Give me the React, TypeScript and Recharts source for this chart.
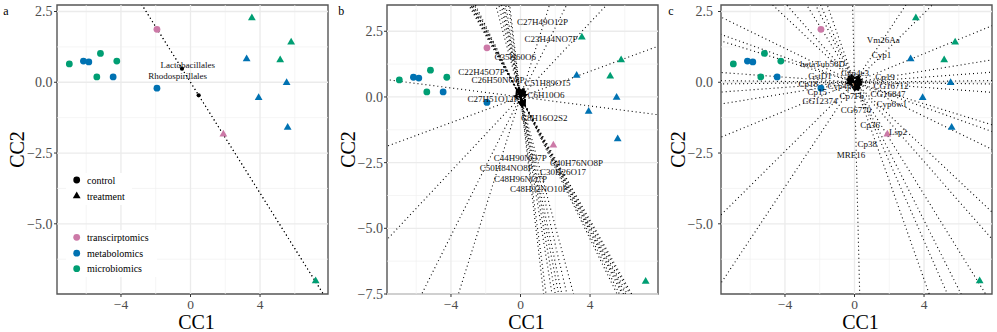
import React from 'react';
import { ScatterChart, Scatter, XAxis, YAxis, ReferenceLine, ReferenceArea } from 'recharts';

const FONT = '"Liberation Serif", "Times New Roman", Times, serif';
const PINK = '#CC79A7';
const BLUE = '#0072B2';
const GREEN = '#009E73';

// ---- samples (same in the three panels) ----
const controlTranscriptomics = [{ x: -1.93, y: 1.87 }];
const controlMetabolomics = [
  { x: -6.16, y: 0.75 }, { x: -5.85, y: 0.72 }, { x: -4.45, y: 0.19 }, { x: -1.93, y: -0.21 },
];
const controlMicrobiomics = [
  { x: -6.97, y: 0.65 }, { x: -5.18, y: 1.02 }, { x: -5.39, y: 0.19 }, { x: -4.24, y: 0.75 },
];
const treatmentTranscriptomics = [{ x: 1.89, y: -1.84 }];
const treatmentMetabolomics = [
  { x: 3.23, y: 0.82 }, { x: 5.53, y: -0.02 }, { x: 3.92, y: -0.55 }, { x: 5.59, y: -1.6 },
];
const treatmentMicrobiomics = [
  { x: 3.53, y: 2.27 }, { x: 5.79, y: 1.41 }, { x: 5.16, y: 0.79 }, { x: 7.2, y: -7.02 },
];

// ---- axes ----
const xDomain = [-7.68, 7.91];
const yDomainAC = [-7.48, 2.73];
const yDomainB = [-7.5, 3.5];
const xTicks = [-4, 0, 4];
const xMinor = [-6, -2, 2, 6];
const yTicksAC = [-5, -2.5, 0, 2.5];
const yTicksB = [-7.5, -5, -2.5, 0, 2.5];
const yMinor = [-6.25, -3.75, -1.25, 1.25];

// ---- panel a: bacterial orders ----
const bacteriaVectors = [
  { x: -0.49, y: 0.48 },
  { x: 0.47, y: -0.46 },
];
const bacteriaLabels = [
  { x: -0.16, y: 0.63, name: 'Lactobacillales' },
  { x: -0.74, y: 0.24, name: 'Rhodospirillales' },
];

// ---- panel b: metabolites ----
const metaboliteVectors = [
  { x: -0.35, y: 0.03 }, { x: 0.34, y: 0.083 }, { x: 0.29, y: 0.205 }, { x: 0.2, y: 0.264 },
  { x: 0.15, y: 0.315 },
  { x: 0.22, y: -0.297 }, { x: -0.22, y: 0.29 }, { x: 0.22, y: -0.282 }, { x: 0.24, y: -0.303 },
  { x: -0.2, y: 0.248 }, { x: 0.23, y: -0.281 }, { x: -0.22, y: 0.262 }, { x: 0.25, y: -0.293 },
  { x: 0.06, y: -0.338 }, { x: 0.065, y: -0.332 }, { x: 0.08, y: -0.331 }, { x: -0.09, y: 0.338 },
  { x: 0.1, y: -0.342 }, { x: 0.11, y: -0.347 }, { x: -0.12, y: 0.337 }, { x: 0.14, y: -0.344 },
];
const metaboliteLabels = [
  { x: 1.27, y: 2.84, name: 'C27H49O12P' },
  { x: 1.75, y: 2.21, name: 'C23H44NO7P' },
  { x: -0.3, y: 1.52, name: 'C35H60O6' },
  { x: -2.25, y: 0.97, name: 'C22H45O7P' },
  { x: -1.3, y: 0.65, name: 'C26H50NO8P' },
  { x: 1.56, y: 0.52, name: 'C51H89O15' },
  { x: 1.47, y: 0.08, name: 'C6H10O6' },
  { x: -1.58, y: -0.08, name: 'C27H51O12P' },
  { x: 1.37, y: -0.81, name: 'C8H16O2S2' },
  { x: -0.02, y: -2.32, name: 'C44H90NO7P' },
  { x: 3.22, y: -2.49, name: 'C40H76NO8P' },
  { x: -0.82, y: -2.68, name: 'C50H84NO8P' },
  { x: 2.45, y: -2.84, name: 'C30H26O17' },
  { x: 0.0, y: -3.13, name: 'C48H96NO7P' },
  { x: 1.05, y: -3.51, name: 'C48H92NO10P' },
];

// ---- panel c: genes ----
const geneVectors = [
  { x: -0.4, y: 0.12 }, { x: 0.4, y: -0.088 }, { x: -0.4, y: 0.076 }, { x: 0.4, y: -0.018 },
  { x: -0.4, y: 0.003 }, { x: 0.4, y: 0.003 }, { x: 0.4, y: 0.018 }, { x: -0.4, y: -0.04 },
  { x: 0.4, y: 0.101 }, { x: 0.3, y: 0.183 }, { x: 0.25, y: 0.231 }, { x: 0.012, y: -0.3 },
  { x: 0.15, y: -0.261 }, { x: -0.18, y: 0.252 }, { x: 0.2, y: -0.244 }, { x: 0.24, y: -0.238 },
  { x: -0.35, y: 0.203 }, { x: 0.3, y: -0.21 },
];
const geneLabels = [
  { x: 1.66, y: 1.5, name: 'Vm26Aa' },
  { x: 1.56, y: 0.96, name: 'Cyp1' },
  { x: -1.83, y: 0.65, name: 'betaTub56D' },
  { x: -1.99, y: 0.24, name: 'GstD1' },
  { x: 0.03, y: 0.35, name: 'Cyp4e3' },
  { x: -2.66, y: -0.06, name: 'Cp18' },
  { x: 1.75, y: 0.2, name: 'Cp19' },
  { x: 2.1, y: -0.12, name: 'CG16712' },
  { x: -2.14, y: -0.35, name: 'Cp15' },
  { x: -0.74, y: -0.12, name: 'Cyp4p1' },
  { x: -0.16, y: -0.47, name: 'Cp7Fb' },
  { x: 1.93, y: -0.41, name: 'CG16847' },
  { x: 2.14, y: -0.77, name: 'Cyp6w1' },
  { x: -1.99, y: -0.64, name: 'CG12374' },
  { x: 0.09, y: -0.98, name: 'CG6770' },
  { x: 0.89, y: -1.49, name: 'Cp36' },
  { x: 2.5, y: -1.75, name: 'Lsp2' },
  { x: 0.74, y: -2.19, name: 'Cp38' },
  { x: -0.2, y: -2.58, name: 'MRE16' },
];

const fmtX = (v: number) => String(v).replace('-', '\u2212');
const fmtY = (v: number) => v.toFixed(1).replace('-', '\u2212');

const extend = (v: { x: number; y: number }) => {
  const k = 40 / Math.max(Math.abs(v.x), Math.abs(v.y));
  return [{ x: -v.x * k, y: -v.y * k }, { x: v.x * k, y: v.y * k }];
};

const circleShape = (color: string, r = 3.4) => (p: any) => (
  <circle cx={p.cx} cy={p.cy} r={r} fill={color} />
);
const triangleShape = (color: string) => (p: any) => {
  const s = 7.8;
  const h = s * 0.866;
  const { cx, cy } = p;
  return (
    <polygon
      points={`${cx},${cy - (h * 2) / 3} ${cx - s / 2},${cy + h / 3} ${cx + s / 2},${cy + h / 3}`}
      fill={color}
    />
  );
};
const labelShape = (p: any) => (
  <text x={p.cx} y={p.cy} dy="0.35em" textAnchor="middle" fontSize={9} fontFamily={FONT} fill="#111">
    {p.payload.name}
  </text>
);
const arrowShape = (p: any) => {
  const { x1, y1, x2, y2 } = p;
  const a = Math.atan2(y2 - y1, x2 - x1);
  const L = 5.5;
  const w = 0.55;
  const pts = `${x2 - L * Math.cos(a - w)},${y2 - L * Math.sin(a - w)} ${x2},${y2} ${x2 - L * Math.cos(a + w)},${y2 - L * Math.sin(a + w)}`;
  return (
    <g>
      <line x1={x1} y1={y1} x2={x2} y2={y2} stroke="#000" strokeWidth={1.4} />
      <polyline points={pts} fill="none" stroke="#000" strokeWidth={1.4} />
    </g>
  );
};

type PanelProps = {
  left: number;
  yDomain: number[];
  yTicks: number[];
  vectors: { x: number; y: number }[];
  labels: { x: number; y: number; name: string }[];
  arrows: boolean;
  yLabelDx: number;
  yTickMargin: number;
};

function Panel({ left, yDomain, yTicks, vectors, labels, arrows, yLabelDx, yTickMargin }: PanelProps) {
  const yMinorIn = yMinor.filter((v) => v > yDomain[0] && v < yDomain[1]);
  return (
    <div style={{ position: 'absolute', left, top: 0 }}>
      <ScatterChart width={333} height={332} margin={{ top: 5, right: 5, bottom: 0, left: 0 }}>
        <XAxis
          type="number"
          dataKey="x"
          domain={xDomain}
          ticks={xTicks}
          interval={0}
          allowDataOverflow
          axisLine={false}
          tickSize={3}
          tickMargin={2}
          tickLine={{ stroke: '#333' }}
          tick={{ fontSize: 13.5, fill: '#4D4D4D', fontFamily: FONT }}
          tickFormatter={fmtX}
          height={38}
          label={{ value: 'CC1', position: 'insideBottom', offset: 3, dx: 4, fontSize: 20, fill: '#000', fontFamily: FONT }}
        />
        <YAxis
          type="number"
          dataKey="y"
          domain={yDomain}
          ticks={yTicks}
          interval={0}
          allowDataOverflow
          axisLine={false}
          tickSize={3}
          tickMargin={yTickMargin}
          tickLine={{ stroke: '#333' }}
          tick={{ fontSize: 14, fill: '#4D4D4D', fontFamily: FONT }}
          tickFormatter={fmtY}
          width={57}
          label={{ value: 'CC2', angle: -90, position: 'center', dx: yLabelDx, fontSize: 20, fill: '#000', fontFamily: FONT }}
        />
        {xMinor.map((v) => (
          <ReferenceLine key={'xm' + v} x={v} stroke="#F0F0F0" strokeWidth={0.7} />
        ))}
        {yMinorIn.map((v) => (
          <ReferenceLine key={'ym' + v} y={v} stroke="#F0F0F0" strokeWidth={0.7} />
        ))}
        {xTicks.map((v) => (
          <ReferenceLine key={'xM' + v} x={v} stroke="#EBEBEB" strokeWidth={1.3} />
        ))}
        {yTicks.map((v) => (
          <ReferenceLine key={'yM' + v} y={v} stroke="#EBEBEB" strokeWidth={1.3} />
        ))}
        {vectors.map((v, i) => (
          <ReferenceLine
            key={'l' + i}
            segment={extend(v)}
            ifOverflow="hidden"
            stroke="#000"
            strokeWidth={1.1}
            strokeDasharray="1 3"
          />
        ))}
        {arrows &&
          vectors.map((v, i) => (
            <ReferenceLine
              key={'a' + i}
              segment={[{ x: 0, y: 0 }, { x: v.x, y: v.y }]}
              ifOverflow="visible"
              shape={arrowShape}
            />
          ))}
        {!arrows && <Scatter data={vectors} isAnimationActive={false} shape={circleShape('#000', 2.1)} />}
        <Scatter data={controlTranscriptomics} isAnimationActive={false} shape={circleShape(PINK)} />
        <Scatter data={controlMetabolomics} isAnimationActive={false} shape={circleShape(BLUE)} />
        <Scatter data={controlMicrobiomics} isAnimationActive={false} shape={circleShape(GREEN)} />
        <Scatter data={treatmentTranscriptomics} isAnimationActive={false} shape={triangleShape(PINK)} />
        <Scatter data={treatmentMetabolomics} isAnimationActive={false} shape={triangleShape(BLUE)} />
        <Scatter data={treatmentMicrobiomics} isAnimationActive={false} shape={triangleShape(GREEN)} />
        <Scatter data={labels} isAnimationActive={false} shape={labelShape} />
        <ReferenceArea
          x1={xDomain[0]}
          x2={xDomain[1]}
          y1={yDomain[0]}
          y2={yDomain[1]}
          ifOverflow="visible"
          fill="none"
          fillOpacity={0}
          stroke="#555"
          strokeWidth={1.4}
        />
      </ScatterChart>
    </div>
  );
}

const legendShapes = [
  { label: 'control', y: 180, kind: 'circle', color: '#000' },
  { label: 'treatment', y: 196, kind: 'triangle', color: '#000' },
  { label: 'transcirptomics', y: 237.3, kind: 'circle', color: PINK },
  { label: 'metabolomics', y: 253.2, kind: 'circle', color: BLUE },
  { label: 'microbiomics', y: 268.7, kind: 'circle', color: GREEN },
];

function Overlay() {
  return (
    <svg width={997} height={332} style={{ position: 'absolute', left: 0, top: 0, pointerEvents: 'none' }}>
      <rect x={66} y={173} width={66} height={32} fill="#fff" />
      <rect x={66} y={230} width={91} height={47} fill="#fff" />
      {legendShapes.map((s) => {
        const cx = 76.7;
        const cy = s.y;
        const h = 7.8 * 0.866;
        return (
          <g key={s.label}>
            {s.kind === 'circle' ? (
              <circle cx={cx} cy={cy} r={3.4} fill={s.color} />
            ) : (
              <polygon
                points={`${cx},${cy - (h * 2) / 3} ${cx - 3.9},${cy + h / 3} ${cx + 3.9},${cy + h / 3}`}
                fill={s.color}
              />
            )}
            <text x={87} y={cy} dy="0.35em" fontSize={10} fontFamily={FONT} fill="#000">
              {s.label}
            </text>
          </g>
        );
      })}
      <text x={3.3} y={15} fontSize={12} fontFamily={FONT} fill="#000">a</text>
      <text x={338.3} y={15} fontSize={12} fontFamily={FONT} fill="#000">b</text>
      <text x={668.3} y={15} fontSize={12} fontFamily={FONT} fill="#000">c</text>
    </svg>
  );
}

export default function App() {
  return (
    <div style={{ position: 'absolute', left: 0, top: 0, width: 997, height: 332, background: '#fff' }}>
      <Panel left={0} yDomain={yDomainAC} yTicks={yTicksAC} vectors={bacteriaVectors} labels={bacteriaLabels} arrows={false} yLabelDx={-12} yTickMargin={1.5} />
      <Panel left={330} yDomain={yDomainB} yTicks={yTicksB} vectors={metaboliteVectors} labels={metaboliteLabels} arrows={true} yLabelDx={-11} yTickMargin={1} />
      <Panel left={664} yDomain={yDomainAC} yTicks={yTicksAC} vectors={geneVectors} labels={geneLabels} arrows={true} yLabelDx={-15} yTickMargin={5} />
      <Overlay />
    </div>
  );
}
